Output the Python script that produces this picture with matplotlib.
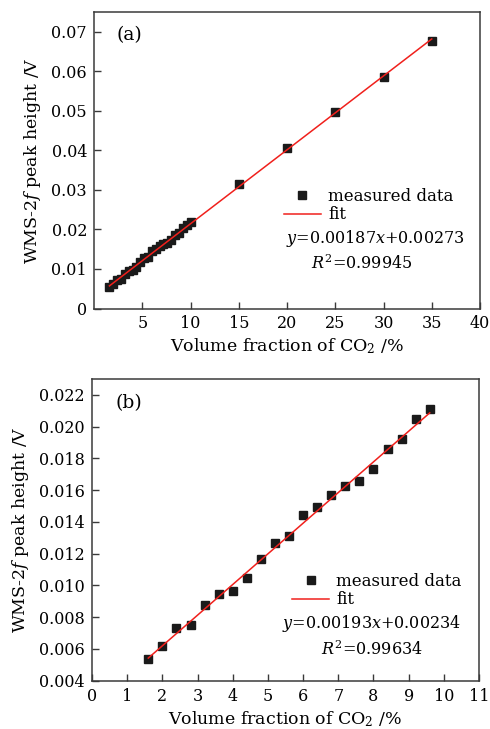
import matplotlib
matplotlib.use("Agg")
import matplotlib.pyplot as plt
import numpy as np

plt.rcParams['font.family'] = ['DejaVu Serif']
plt.rcParams['mathtext.fontset'] = 'dejavuserif'
plt.rcParams['font.size'] = 11

# panel (b) data, also the dense part of panel (a)
conc_b = [1.6, 2.0, 2.4, 2.8, 3.2, 3.6, 4.0, 4.4, 4.8, 5.2, 5.6,
          6.0, 6.4, 6.8, 7.2, 7.6, 8.0, 8.4, 8.8, 9.2, 9.6]
peak_b = [0.00537, 0.00621, 0.00732, 0.00751, 0.00877, 0.00944, 0.00965,
          0.01049, 0.01167, 0.01268, 0.01310, 0.01442, 0.01496, 0.01570,
          0.01627, 0.01660, 0.01732, 0.01858, 0.01921, 0.02047, 0.02112]

# extra points of panel (a)
conc_hi = [10, 15, 20, 25, 30, 35]
peak_hi = [0.0220, 0.0314, 0.0405, 0.0497, 0.0586, 0.0676]

conc_a = conc_b + conc_hi
peak_a = peak_b + peak_hi

fit_a = (0.00187, 0.00273)
fit_b = (0.00193, 0.00234)

W, H = 490, 729
fig = plt.figure(figsize=(W / 100, H / 100), dpi=100)

ax_a = fig.add_axes([94 / W, 1 - 308.5 / H, 386 / W, 296.5 / H])
ax_b = fig.add_axes([92 / W, 1 - 680.75 / H, 387 / W, 301.75 / H])

sq_color = '#1a1a1a'
red = '#f0201c'


def style(ax):
    for s in ax.spines.values():
        s.set_color('#3a3a3a')
        s.set_linewidth(1.1)
    ax.tick_params(direction='in', length=5, width=1.0, color='#3a3a3a',
                   top=False, right=False, labelsize=11.5, pad=5)


# (a)
xa = np.array([conc_a[0], conc_a[-1]])
ax_a.plot(conc_a, peak_a, 's', color=sq_color, ms=5.5, label='measured data', zorder=2)
ax_a.plot(xa, fit_a[0] * xa + fit_a[1], '-', color=red, lw=1.1, label='fit', zorder=3)
ax_a.set_xlim(0, 40)
ax_a.set_ylim(0, 0.075)
ax_a.set_xticks([5, 10, 15, 20, 25, 30, 35, 40])
ax_a.set_yticks([0, 0.01, 0.02, 0.03, 0.04, 0.05, 0.06, 0.07])
ax_a.set_yticklabels(['0', '0.01', '0.02', '0.03', '0.04', '0.05', '0.06', '0.07'])
style(ax_a)
ax_a.set_xlabel(r'Volume fraction of CO$_2$ /%', fontsize=12.5, labelpad=3)
ax_a.set_ylabel(r'WMS-2$\mathit{f}$ peak height /V', fontsize=12.5, labelpad=6)
ax_a.text(0.058, 0.922, '(a)', transform=ax_a.transAxes, fontsize=13.5, va='center')
ax_a.legend(loc='upper left', bbox_to_anchor=(0.475, 0.43), frameon=False,
            fontsize=12, handlelength=2.2, handletextpad=0.45, labelspacing=0.1,
            borderaxespad=0)
ax_a.text(0.729, 0.237, r'$y$=0.00187$x$+0.00273', transform=ax_a.transAxes,
          fontsize=11.5, ha='center', va='center')
ax_a.text(0.694, 0.152, r'$R^2$=0.99945', transform=ax_a.transAxes,
          fontsize=11.5, ha='center', va='center')

# (b)
xb = np.array([conc_b[0], conc_b[-1]])
ax_b.plot(conc_b, peak_b, 's', color=sq_color, ms=5.5, label='measured data', zorder=2)
ax_b.plot(xb, fit_b[0] * xb + fit_b[1], '-', color=red, lw=1.1, label='fit', zorder=3)
ax_b.set_xlim(0, 11)
ax_b.set_ylim(0.004, 0.023)
ax_b.set_xticks(range(0, 12))
yt = [0.004, 0.006, 0.008, 0.010, 0.012, 0.014, 0.016, 0.018, 0.020, 0.022]
ax_b.set_yticks(yt)
ax_b.set_yticklabels(['%.3f' % v for v in yt])
style(ax_b)
ax_b.set_xlabel(r'Volume fraction of CO$_2$ /%', fontsize=12.5, labelpad=3)
ax_b.set_ylabel(r'WMS-2$\mathit{f}$ peak height /V', fontsize=12.5, labelpad=6)
ax_b.text(0.06, 0.92, '(b)', transform=ax_b.transAxes, fontsize=13.5, va='center')
ax_b.legend(loc='upper left', bbox_to_anchor=(0.5, 0.38), frameon=False,
            fontsize=12, handlelength=2.2, handletextpad=0.45, labelspacing=0.1,
            borderaxespad=0)
ax_b.text(0.722, 0.19, r'$y$=0.00193$x$+0.00234', transform=ax_b.transAxes,
          fontsize=11.5, ha='center', va='center')
ax_b.text(0.723, 0.104, r'$R^2$=0.99634', transform=ax_b.transAxes,
          fontsize=11.5, ha='center', va='center')

fig.savefig('out.png', dpi=100)
